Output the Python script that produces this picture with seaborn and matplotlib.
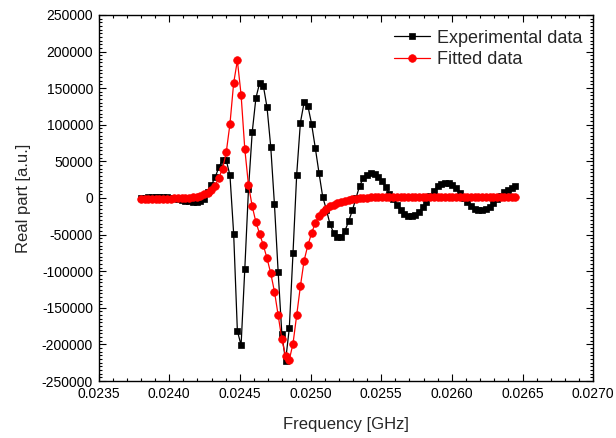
import numpy as np
import matplotlib
matplotlib.use("Agg")
import matplotlib.pyplot as plt
import seaborn as sns
from matplotlib.ticker import MultipleLocator, FormatStrFormatter

# Frequency sweep (GHz)
freq = np.linspace(0.02380, 0.02645, 102)

# Measured real part of the signal
experimental = [
    0, 500, 1000, 1000, 1200, 1200, 1000, 1000, 500, -500,
    -2000, -3000, -4000, -4500, -5000, -5000, -4500, -2000, 8000, 18000,
    28000, 42000, 51500, 51500, 31000, -48800, -181500, -201000, -97400, 12300,
    89600, 136500, 157000, 153300, 123700, 69800, -8900, -101100, -186000, -222300,
    -178200, -75600, 32000, 103000, 130500, 126000, 101500, 68800, 34700, 2000,
    -16000, -36000, -48000, -53500, -53000, -45000, -32000, -17000, 0, 17000,
    27000, 32000, 34000, 33000, 29000, 23000, 15000, 6000, -2000, -10000,
    -17000, -21500, -24000, -24500, -23000, -19000, -13000, -5000, 3000, 10000,
    16000, 19500, 21000, 20500, 18000, 13000, 7000, 0, -6000, -11500,
    -15000, -16500, -17000, -15500, -12000, -7000, -2000, 3000, 7500, 11000,
    14000, 16500,
]

# Fitted model curve
fitted = [
    -1200, -1200, -1200, -1100, -1100, -1000, -1000, -900, -800, -700,
    -500, -300, 0, 300, 900, 1800, 3000, 4800, 7000, 10500,
    17000, 27500, 39800, 62400, 101000, 157000, 187800, 141000, 67000, 17400,
    -11200, -33000, -48800, -64700, -82400, -102900, -127800, -160100, -193200, -215500,
    -221000, -199000, -160000, -120300, -85400, -64700, -48500, -34000, -25000, -19000,
    -14500, -11500, -9000, -7000, -5200, -3800, -2600, -1600, -800, -200,
    300, 600, 900, 1100, 1300, 1400, 1500, 1500, 1500, 1500,
    1500, 1500, 1500, 1500, 1500, 1500, 1500, 1500, 1500, 1500,
    1500, 1500, 1500, 1500, 1500, 1500, 1500, 1500, 1500, 1500,
    1500, 1500, 1500, 1500, 1500, 1500, 1500, 1500, 1500, 1500,
    1500, 1500,
]

sns.set_style("ticks")
plt.rcParams["font.family"] = ["Liberation Sans", "DejaVu Sans"]
plt.rcParams["axes.unicode_minus"] = False

fig = plt.figure(figsize=(6.16, 4.38), dpi=100)
ax = fig.add_axes([0.160, 0.130, 0.803, 0.836])

sns.lineplot(x=freq, y=experimental, ax=ax, color="black", linewidth=0.9,
             marker="s", markersize=5, markeredgecolor="black", markeredgewidth=0.5,
             label="Experimental data", estimator=None, sort=False, zorder=2)
sns.lineplot(x=freq, y=fitted, ax=ax, color="red", linewidth=0.9,
             marker="o", markersize=5.5, markeredgecolor="red", markeredgewidth=0.5,
             label="Fitted data", estimator=None, sort=False, zorder=3)

ax.set_xlim(0.0235, 0.0270)
ax.set_ylim(-250000, 250000)
ax.xaxis.set_major_locator(MultipleLocator(0.0005))
ax.xaxis.set_minor_locator(MultipleLocator(0.0001))
ax.yaxis.set_major_locator(MultipleLocator(50000))
ax.yaxis.set_minor_locator(MultipleLocator(5000))
ax.xaxis.set_major_formatter(FormatStrFormatter("%.4f"))
ax.yaxis.set_major_formatter(FormatStrFormatter("%d"))

ax.tick_params(which="both", direction="in", top=True, right=True,
               colors="black", labelsize=10, width=0.8)
ax.tick_params(which="major", length=5, pad=4)
ax.tick_params(which="minor", length=2.5)
for s in ax.spines.values():
    s.set_linewidth(1.0)
    s.set_color("black")

ax.set_xlabel("Frequency [GHz]", fontsize=12, labelpad=12)
ax.set_ylabel("Real part [a.u.]", fontsize=12, labelpad=8)

ax.legend(loc="upper right", bbox_to_anchor=(0.992, 0.979), frameon=False,
          fontsize=13, handlelength=2.0, handletextpad=0.35, labelspacing=0.25,
          borderaxespad=0.0)

fig.savefig("out.png", dpi=100, facecolor="white")
